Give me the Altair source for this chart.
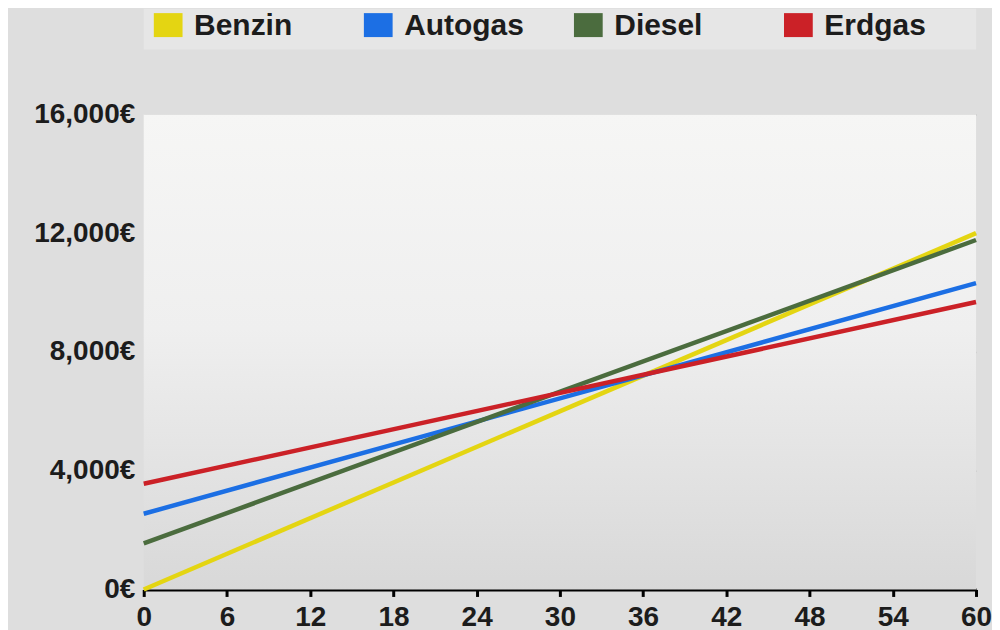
import altair as alt
import pandas as pd

# ---- data ----
series = ["Benzin", "Autogas", "Diesel", "Erdgas"]
colors = ["#e4d512", "#1c6fe4", "#4b6c3e", "#cb2127"]
months = [0, 60]
benzin = [0, 12000]
autogas = [2550, 10320]
diesel = [1550, 11770]
erdgas = [3560, 9680]
x_ticks = [0, 6, 12, 18, 24, 30, 36, 42, 48, 54, 60]
y_ticks = [0, 4000, 8000, 12000, 16000]

rows = []
for name, vals in zip(series, [benzin, autogas, diesel, erdgas]):
    for m, v in zip(months, vals):
        rows.append({"Serie": name, "Monat": m, "Kosten": v})
df = pd.DataFrame(rows)

bg = pd.DataFrame({"x0": [x_ticks[0]], "x1": [x_ticks[-1]],
                   "y0": [y_ticks[0]], "y1": [y_ticks[-1]]})
leg_df = pd.DataFrame({"Serie": series})

FONT = "Liberation Sans"
TXT = "#1c1c1c"

xscale = alt.Scale(domain=[x_ticks[0], x_ticks[-1]], nice=False, zero=False)
yscale = alt.Scale(domain=[y_ticks[0], y_ticks[-1]], nice=False)
cscale = alt.Scale(domain=series, range=colors)

x_axis = alt.Axis(values=x_ticks, title=None, grid=False, domainColor="black",
                  domainWidth=3, tickColor="black", tickWidth=3, tickSize=7,
                  labelFont=FONT, labelFontSize=28, labelFontWeight="bold",
                  labelColor=TXT, labelPadding=7, labelFlush=False)
y_axis = alt.Axis(values=y_ticks, title=None, domain=False, ticks=False, grid=True,
                  gridColor="#c4c4c4", gridWidth=1.5,
                  labelExpr="format(datum.value, ',') + '€'",
                  labelFont=FONT, labelFontSize=28, labelFontWeight="bold",
                  labelColor=TXT, labelPadding=9)

gradient = alt.LinearGradient(
    gradient="linear", x1=0, x2=0, y1=0, y2=1,
    stops=[alt.GradientStop(offset=0, color="#f6f6f5"),
           alt.GradientStop(offset=0.45, color="#efefef"),
           alt.GradientStop(offset=1, color="#d8d8d8")])

background = alt.Chart(bg).mark_rect(color=gradient).encode(
    x=alt.X("x0:Q", scale=xscale, axis=x_axis),
    x2="x1:Q",
    y=alt.Y("y0:Q", scale=yscale, axis=y_axis),
    y2="y1:Q",
)

lines = alt.Chart(df).mark_line(strokeWidth=4.5).encode(
    x=alt.X("Monat:Q", scale=xscale, axis=x_axis),
    y=alt.Y("Kosten:Q", scale=yscale, axis=y_axis),
    color=alt.Color("Serie:N", scale=cscale, legend=None),
    detail="Serie:N",
)

main = alt.layer(background, lines).properties(width=834, height=476)

legx = alt.X("Serie:N", sort=series, axis=None,
             scale=alt.Scale(type="point", domain=series, range=[24.5, 656],
                             padding=0))
leg_sym = alt.Chart(leg_df).mark_point(
    shape="M-1.2,-1L1.2,-1L1.2,1L-1.2,1Z", size=576, filled=True, opacity=1,
    yOffset=-4).encode(
    x=legx, color=alt.Color("Serie:N", scale=cscale, legend=None))
leg_txt = alt.Chart(leg_df).mark_text(
    align="left", baseline="middle", dx=26, dy=-3, font=FONT, fontSize=30,
    fontWeight="bold", color=TXT).encode(x=legx, text="Serie:N")
legend = alt.layer(leg_sym, leg_txt).properties(
    width=834, height=41, view=alt.ViewBackground(fill="#e6e6e6"))

chart = alt.vconcat(legend, main, spacing=51).properties(
    padding={"left": 25, "top": 0, "right": 0, "bottom": 0},
    background="#dedede",
).configure_view(strokeWidth=0)

chart.save("out.html", embed_options={"renderer": "svg", "actions": False})
